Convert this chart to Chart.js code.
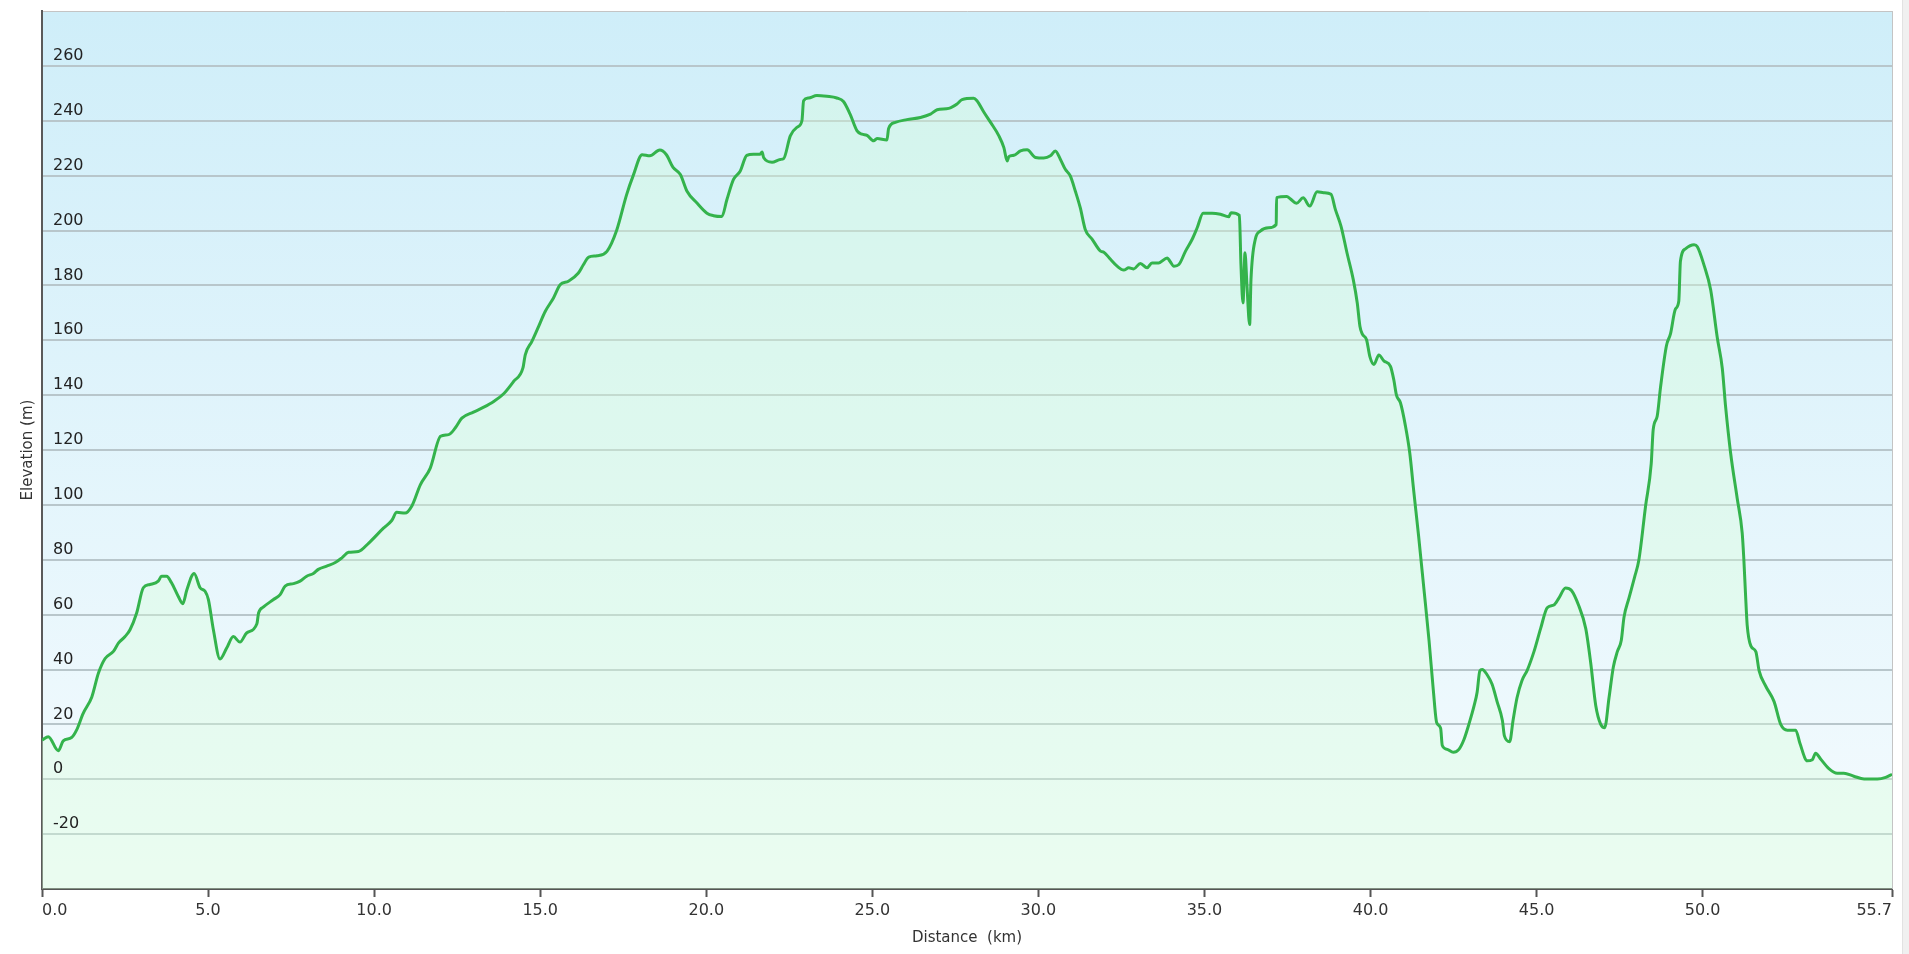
<!DOCTYPE html>
<html>
<head>
<meta charset="utf-8">
<title>Elevation profile</title>
<script src="https://cdn.jsdelivr.net/npm/chart.js@4.4.1/dist/chart.umd.min.js"></script>
<style>
  body { margin: 0; background: #fff; overflow: hidden; }
  #wrap { position: absolute; left: 0; top: 0; width: 1909px; height: 954px; }
  #bar { position: absolute; left: 1902px; top: 0; width: 7px; height: 954px; background: #f0f0f0; border-left: 1px solid #e2e2e2; }
</style>
</head>
<body>
<div id="wrap"><canvas id="profile"></canvas></div>
<div id="bar"></div>
<script>
/* distance along the route (km) and the elevation (m) */
const distances = [
  0.0, 0.19, 0.49, 0.64, 0.89, 1.04, 1.24, 1.5, 1.7, 1.9, 2.15, 2.3, 2.5, 2.65, 2.85, 3.05, 3.25, 3.5, 3.6, 3.75,
  3.9, 4.1, 4.24, 4.36, 4.58, 4.76, 4.91, 5.01, 5.16, 5.36, 5.56, 5.76, 5.96, 6.16, 6.47, 6.52, 6.67, 6.97, 7.17, 7.32,
  7.57, 7.77, 7.97, 8.17, 8.32, 8.57, 8.83, 9.03, 9.23, 9.53, 9.83, 10.28, 10.53, 10.68, 10.93, 11.14, 11.39, 11.69, 12.0, 12.24,
  12.44, 12.64, 12.99, 13.3, 13.6, 13.9, 14.2, 14.48, 14.55, 14.75, 14.95, 15.15, 15.4, 15.6, 15.85, 16.15, 16.3, 16.46, 16.71, 17.01,
  17.3, 17.6, 17.8, 18.07, 18.3, 18.6, 18.8, 19.0, 19.22, 19.42, 19.72, 20.02, 20.22, 20.47, 20.62, 20.82, 21.02, 21.22, 21.42, 21.62,
  21.68, 21.73, 21.98, 22.23, 22.33, 22.53, 22.73, 22.88, 22.93, 23.08, 23.33, 23.63, 23.93, 24.13, 24.33, 24.54, 24.69, 24.84, 25.04, 25.14,
  25.44, 25.49, 25.69, 26.04, 26.45, 26.75, 26.95, 27.3, 27.55, 27.7, 28.05, 28.15, 28.36, 28.56, 28.81, 28.96, 29.06, 29.11, 29.26, 29.46,
  29.66, 29.91, 30.16, 30.36, 30.51, 30.66, 30.81, 30.96, 31.11, 31.26, 31.41, 31.62, 31.87, 31.97, 32.17, 32.37, 32.57, 32.72, 32.87, 33.07,
  33.27, 33.42, 33.62, 33.88, 33.96, 34.08, 34.23, 34.43, 34.63, 34.78, 34.96, 35.23, 35.48, 35.73, 35.8, 36.05, 36.1, 36.16, 36.22, 36.28,
  36.36, 36.4, 36.53, 36.68, 36.93, 37.16, 37.17, 37.48, 37.58, 37.77, 37.97, 38.17, 38.39, 38.59, 38.81, 38.94, 39.11, 39.29, 39.48, 39.6,
  39.68, 39.75, 39.88, 39.98, 40.1, 40.25, 40.4, 40.6, 40.7, 40.78, 40.9, 41.05, 41.18, 41.3, 41.45, 41.6, 41.76, 41.89, 41.99, 42.11,
  42.16, 42.31, 42.49, 42.66, 42.81, 42.96, 43.12, 43.21, 43.29, 43.36, 43.51, 43.66, 43.81, 43.97, 44.03, 44.19, 44.29, 44.41, 44.56, 44.72,
  44.92, 45.12, 45.32, 45.52, 45.67, 45.87, 46.05, 46.27, 46.48, 46.63, 46.78, 46.93, 47.05, 47.18, 47.31, 47.43, 47.55, 47.63, 47.78, 47.95,
  48.08, 48.28, 48.45, 48.51, 48.63, 48.73, 48.91, 49.03, 49.18, 49.28, 49.33, 49.48, 49.74, 49.84, 50.04, 50.24, 50.44, 50.59, 50.69, 50.84,
  51.04, 51.19, 51.24, 51.29, 51.34, 51.45, 51.6, 51.7, 51.9, 52.15, 52.35, 52.55, 52.8, 52.93, 53.15, 53.3, 53.4, 53.55, 53.8, 54.05,
  54.25, 54.55, 54.86, 55.26, 55.51, 55.7
];
const elevations = [
  14.3, 15.5, 10.4, 14, 15.2, 17.9, 24, 30, 38.7, 44, 46.6, 49.6, 52, 54.5, 60.6, 69.8, 71, 72.2, 74, 74,
  71.6, 66.7, 64, 69, 75, 69.8, 68.5, 65.5, 54.5, 43.8, 47.8, 52, 50, 53.3, 56.7, 60.6, 62.8, 65.5, 67.3, 70.4,
  71.3, 72.2, 74, 75, 76.5, 77.7, 79, 80.7, 82.7, 83, 86, 91.5, 94.3, 97.3, 97, 99.7, 107.3, 113.4, 125, 125.6,
  128, 131.6, 133.8, 135.6, 137.7, 140.5, 145, 149.9, 154.7, 159.6, 165, 170.5, 175.4, 180.2, 181.5, 184.5, 187.5, 190.3, 190.8, 192.4,
  200, 213, 220, 227.6, 227.2, 229.3, 227.6, 223, 220.4, 214.3, 210, 206.3, 205.4, 205.1, 211.2, 218.6, 221.6, 227.4, 227.8, 227.8,
  228.6, 226.5, 224.9, 225.9, 226.2, 234.5, 237.6, 240, 247.3, 248.3, 249.2, 248.9, 248.3, 247, 242.4, 236.3, 235.1, 234.7, 232.7, 233.5,
  233, 237.2, 239.4, 240.4, 241.2, 242.4, 244, 244.5, 246.1, 247.7, 248.2, 247.3, 243.1, 239.4, 234.5, 230.2, 225.3, 226.9, 227.4, 229,
  229.4, 226.6, 226.4, 227.2, 229, 226, 222.3, 219.9, 214.4, 208.3, 200.4, 196.8, 192.5, 192.1, 189.5, 187, 185.6, 186.4, 186, 188,
  186.4, 188.2, 188.2, 190, 188.8, 187, 187.6, 192.5, 196.8, 201, 206.3, 206.3, 205.9, 205, 206.5, 205.5, 187, 173.6, 191.9, 179.7,
  165.7, 182.1, 196.8, 199.8, 201, 202.2, 212, 212.4, 211.6, 209.9, 211.9, 208.9, 214.1, 213.8, 213.2, 207.7, 201.6, 191.9, 182.1, 173.6,
  165.1, 162.3, 160.2, 154, 151.2, 154.6, 152.5, 150.5, 145.6, 140, 137.2, 128.8, 119, 105.1, 88.3, 70.2, 50.7, 32.5, 20.7, 18.6,
  12.3, 10.9, 9.8, 10.9, 14.4, 20, 26.9, 31.8, 39.5, 40, 38.1, 34.6, 28.3, 21.4, 15.8, 13.7, 21.4, 29.7, 36, 39.8,
  46.5, 54.9, 62.5, 63.5, 66, 69.7, 68.8, 63.2, 54.9, 42.3, 26.9, 20, 18.8, 29.7, 40.9, 46.5, 50.7, 59, 66, 73.7,
  80, 99.5, 114.9, 127.4, 132.3, 142.8, 158.1, 162.3, 171.4, 174.2, 188.8, 193.3, 194.8, 194.1, 187.4, 178.4, 160.9, 149.8, 135.8, 119,
  102.3, 89.7, 80, 67.4, 56.2, 48.6, 46.5, 39.5, 33.9, 28.3, 20, 17.9, 17.9, 13, 6.7, 7.1, 9.5, 7.4, 3.9, 2.2,
  2.2, 1.1, 0.1, 0.1, 0.7, 1.8
];
/* tick labels */
const xTicks = [0, 5, 10, 15, 20, 25, 30, 35, 40, 45, 50, 55.7];
const yLabels = [-20, 0, 20, 40, 60, 80, 100, 120, 140, 160, 180, 200, 220, 240, 260];

/* sky coloured gradient behind the plot, plus the thin right border */
const plotBackground = {
  id: 'plotBackground',
  beforeDraw(chart) {
    const {ctx, chartArea: a} = chart;
    const g = ctx.createLinearGradient(0, a.top, 0, a.bottom);
    g.addColorStop(0, '#cfeef9');
    g.addColorStop(1, '#f5fbfe');
    ctx.save();
    ctx.fillStyle = g;
    ctx.fillRect(a.left, a.top, a.right - a.left, a.bottom - a.top);
    ctx.restore();
  },
  afterDraw(chart) {
    const {ctx, chartArea: a} = chart;
    ctx.save();
    ctx.strokeStyle = '#c4c4c4';
    ctx.lineWidth = 1;
    ctx.beginPath();
    ctx.moveTo(a.right + 0.5, a.top);
    ctx.lineTo(a.right + 0.5, a.bottom);
    ctx.stroke();
    ctx.restore();
  }
};

const profile = document.getElementById('profile');
const myProfile = new Chart(profile, {
  type: 'line',
  data: {
    datasets: [{
      label: 'Elevation',
      data: distances.map((d, i) => ({x: d, y: elevations[i]})),
      borderColor: '#34b34c',
      borderWidth: 3,
      backgroundColor: 'rgba(215, 255, 215, 0.35)',
      fill: 'start',
      pointRadius: 0,
      cubicInterpolationMode: 'monotone'
    }]
  },
  options: {
    responsive: true,
    maintainAspectRatio: false,
    animation: false,
    layout: {
      padding: {left: 0, top: 11, right: 17, bottom: 0}
    },
    plugins: {
      legend: { display: false },
      tooltip: { enabled: false }
    },
    scales: {
      x: {
        type: 'linear',
        min: 0,
        max: 55.7,
        afterBuildTicks: (scale) => {
          scale.ticks = xTicks.map(v => ({value: v}));
        },
        afterFit: (scale) => {
          scale.height = 65;
          scale.paddingLeft = 0;
          scale.paddingRight = 0;
        },
        ticks: {
          align: 'inner',
          maxRotation: 0,
          padding: 4,
          color: '#333',
          font: {family: 'DejaVu Sans', size: 16},
          callback: (v) => Number(v).toFixed(1)
        },
        grid: {
          drawOnChartArea: false,
          drawTicks: true,
          tickLength: 8,
          tickColor: '#555',
          tickWidth: 2
        },
        border: { color: '#555', width: 2 },
        title: {
          display: true,
          text: 'Distance  (km)',
          color: '#333',
          font: {family: 'DejaVu Sans', size: 15},
          padding: {top: 0, bottom: 7}
        }
      },
      y: {
        min: -40,
        max: 280,
        afterBuildTicks: (scale) => {
          const t = [];
          for (let v = -40; v <= 280; v += 20) t.push({value: v});
          scale.ticks = t;
        },
        afterFit: (scale) => {
          scale.width = 42;
          scale.paddingTop = 0;
          scale.paddingBottom = 0;
        },
        ticks: {
          /* labels sit inside the plot, so draw them above the filled area */
          z: 1,
          mirror: true,
          padding: 11,
          labelOffset: -10,
          color: '#222',
          font: {family: 'DejaVu Sans', size: 16},
          callback: (v) => yLabels.includes(v) ? String(v) : ''
        },
        grid: {
          drawTicks: false,
          color: (c) => c.tick && c.tick.value === 280 ? '#c4c4c4' : '#b8c6cb',
          lineWidth: (c) => c.tick && c.tick.value === 280 ? 1 : 2
        },
        border: { color: '#5a5a5a', width: 2 },
        title: {
          display: true,
          text: 'Elevation (m)',
          color: '#333',
          font: {family: 'DejaVu Sans', size: 15},
          padding: {top: 19, bottom: 0}
        }
      }
    }
  },
  plugins: [plotBackground]
});
</script>
</body>
</html>
